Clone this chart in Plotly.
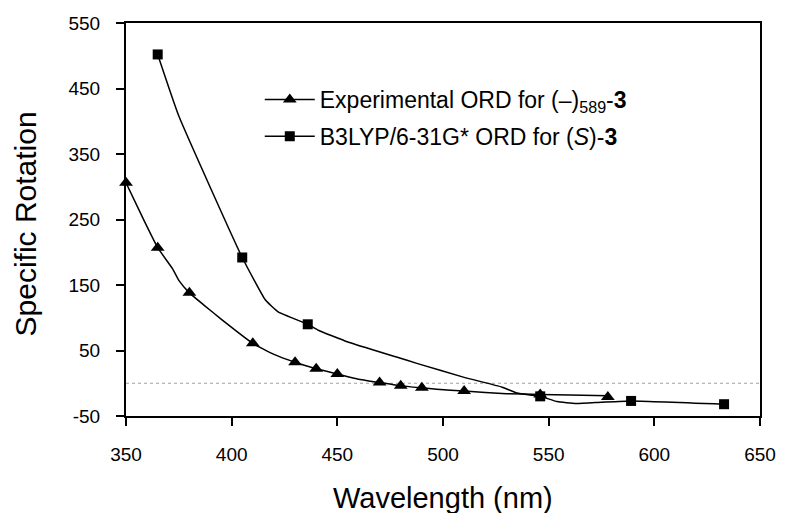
import plotly.graph_objects as go

# ---- data ----
exp_wl = [350, 365, 380, 410, 430, 440, 450, 470, 480, 490, 510, 546, 578]
exp_rot = [306, 207, 138, 61, 32, 22, 14, 1, -4, -7, -12, -17, -21]

exp_curve_wl = [350, 358, 365, 372, 375, 380, 387, 395, 410, 420, 430, 440, 450, 460, 470, 480, 490, 497, 510, 530, 546, 560, 578]
exp_curve_rot = [306, 252, 207, 175, 157, 138, 119, 98, 61, 44, 32, 22, 14, 6, 1, -4, -7, -9, -12, -16, -17, -18, -19]

calc_wl = [365, 405, 436, 546, 589, 633]
calc_rot = [502, 192, 90, -20, -27, -32]

calc_curve_wl = [365, 375, 405, 416, 422, 436, 441, 455, 478, 488, 510, 528, 535, 546, 554, 563, 575, 589, 633]
calc_curve_rot = [502, 408, 192, 127, 109, 90, 81, 63, 40, 30, 9, -6, -15, -20, -28, -31, -29, -27, -32]

y_ticks = [-50, 50, 150, 250, 350, 450, 550]
y_tick_labels = ["-50", "50", "150", "250", "350", "450", "550"]
x_ticks = [350, 400, 450, 500, 550, 600, 650]
x_tick_labels = ["350", "400", "450", "500", "550", "600", "650"]

exp_name = "Experimental ORD for (\u2013)<sub>589</sub>-<b>3</b>"
calc_name = "B3LYP/6-31G* ORD for (<i>S</i>)-<b>3</b>"

FONT = "Arial, Liberation Sans, Helvetica, sans-serif"

fig = go.Figure()

# curves
fig.add_trace(go.Scatter(x=exp_curve_wl, y=exp_curve_rot, mode="lines",
                         line=dict(color="black", width=1.5, shape="spline", smoothing=0.4),
                         showlegend=False, hoverinfo="skip"))
fig.add_trace(go.Scatter(x=calc_curve_wl, y=calc_curve_rot, mode="lines",
                         line=dict(color="black", width=1.5, shape="spline", smoothing=0.4),
                         showlegend=False, hoverinfo="skip"))
# markers
fig.add_trace(go.Scatter(x=exp_wl, y=exp_rot, mode="markers", cliponaxis=False,
                         marker=dict(symbol="triangle-up", size=12, color="black"),
                         showlegend=False))
fig.add_trace(go.Scatter(x=calc_wl, y=calc_rot, mode="markers", cliponaxis=False,
                         marker=dict(symbol="square", size=10, color="black"),
                         showlegend=False))
# legend entries
fig.add_trace(go.Scatter(x=[None], y=[None], mode="lines+markers", name=exp_name,
                         legendgroup="a",
                         line=dict(color="black", width=1.5),
                         marker=dict(symbol="triangle-up", size=12, color="black")))
fig.add_trace(go.Scatter(x=[None], y=[None], mode="lines+markers", name=calc_name,
                         legendgroup="b",
                         line=dict(color="black", width=1.5),
                         marker=dict(symbol="square", size=10, color="black")))

fig.add_shape(type="line", xref="paper", x0=0, x1=1, yref="y", y0=0, y1=0,
              line=dict(color="#a0a0a0", width=1, dash="dot"), layer="below")

fig.add_annotation(text="Wavelength (nm)", xref="paper", yref="paper", x=0.5, y=0,
                   yanchor="middle", yshift=-82, showarrow=False,
                   font=dict(family=FONT, size=29, color="black"))
fig.add_annotation(text="Specific Rotation", xref="paper", yref="paper", x=0, y=0.5,
                   xanchor="center", xshift=-101, yshift=-5, textangle=-90, showarrow=False,
                   font=dict(family=FONT, size=30, color="black"))

fig.update_layout(
    width=788, height=513,
    margin=dict(l=126, r=22, t=23, b=97),
    paper_bgcolor="white", plot_bgcolor="white",
    font=dict(family=FONT, color="black"),
    legend=dict(x=0.211, y=0.86, xanchor="left", yanchor="top",
                font=dict(family=FONT, size=23, color="black"),
                bgcolor="rgba(0,0,0,0)", traceorder="grouped", tracegroupgap=4,
                itemwidth=50),
)
fig.update_xaxes(range=[350, 650], tickvals=x_ticks, ticktext=x_tick_labels,
                 ticks="outside", ticklen=8,
                 tickwidth=1.5, tickcolor="black", showline=True, linecolor="black",
                 linewidth=2, mirror=True, showgrid=False, zeroline=False,
                 tickfont=dict(family=FONT, size=19, color="black"), ticklabelstandoff=12)
fig.update_yaxes(range=[-50, 550], tickvals=y_ticks, ticktext=y_tick_labels,
                 ticks="outside", ticklen=8,
                 tickwidth=1.5, tickcolor="black", showline=True, linecolor="black",
                 linewidth=2, mirror=True, showgrid=False, zeroline=False,
                 tickfont=dict(family=FONT, size=19, color="black"), ticklabelstandoff=12)

fig.write_html("out.html")
